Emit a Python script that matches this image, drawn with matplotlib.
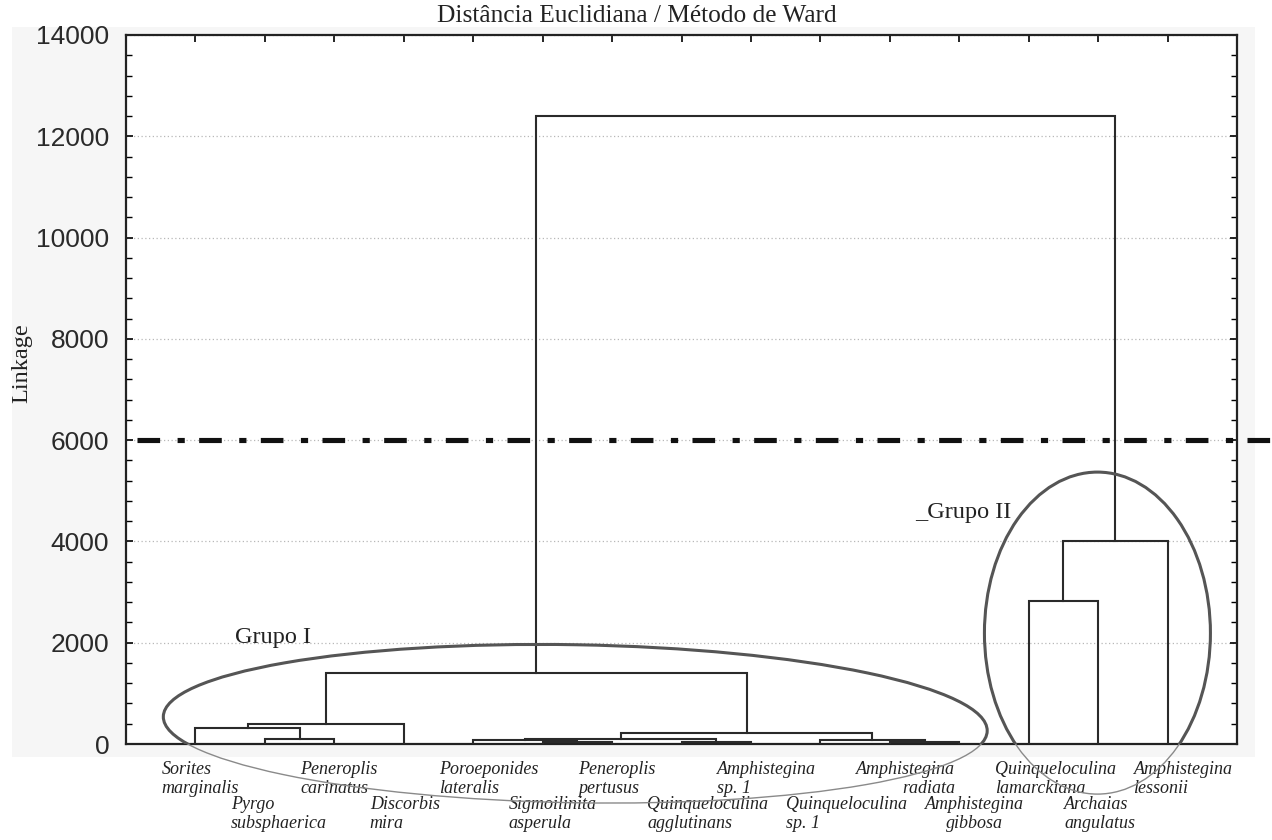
import numpy as np
import matplotlib
matplotlib.use("Agg")
import matplotlib.pyplot as plt
from matplotlib.patches import Ellipse, Rectangle
from matplotlib.transforms import Affine2D
from matplotlib.ticker import MultipleLocator, FixedLocator

# ---------------- data ----------------
LEAF_GENUS = ["Sorites", "Pyrgo", "Peneroplis", "Discorbis", "Poroeponides",
              "Sigmoilinita", "Peneroplis", "Quinqueloculina", "Amphistegina",
              "Quinqueloculina", "Amphistegina", "Amphistegina", "Quinqueloculina",
              "Archaias", "Amphistegina"]
LEAF_SPECIES = ["marginalis", "subsphaerica", "carinatus", "mira", "lateralis",
                "asperula", "pertusus", "agglutinans", "sp. 1", "sp. 1",
                "radiata", "gibbosa", "lamarckiana", "angulatus", "lessonii"]
# linkage: children (leaf index < 15, else node 15 + merge index) and height
MERGE_LEFT = [1, 0, 16, 5, 4, 7, 19, 10, 9, 21, 17, 12, 26, 25]
MERGE_RIGHT = [2, 15, 3, 6, 18, 8, 20, 11, 22, 23, 24, 13, 14, 27]
MERGE_HEIGHT = [95, 315, 395, 40, 70, 45, 100, 40, 75, 215, 1405, 2820, 4000, 12400]
CUT_HEIGHT = 6000
Y_TICKS = [0, 2000, 4000, 6000, 8000, 10000, 12000, 14000]
GROUP_NAMES = ["Grupo I", "_Grupo II"]
TITLE = "Distância Euclidiana / Método de Ward"
Y_LABEL = "Linkage"

# ---------------- figure ----------------
W, H = 1272, 840
fig = plt.figure(figsize=(W / 100, H / 100), dpi=100)
fig.patch.set_facecolor("white")
fig.patches.append(Rectangle((12 / W, 1 - 757 / H), (1255 - 12) / W, (757 - 27) / H,
                             transform=fig.transFigure, facecolor="#f6f6f6",
                             edgecolor="none", zorder=-10))
ax_l, ax_r, ax_t, ax_b = 126, 1237, 35, 744
ax = fig.add_axes([ax_l / W, 1 - ax_b / H, (ax_r - ax_l) / W, (ax_b - ax_t) / H])
ax.set_zorder(1)
ax.set_facecolor("white")
n = len(LEAF_GENUS)
ax.set_xlim(0, n + 1)
ax.set_ylim(0, 14000)

SERIF = ["Liberation Serif", "DejaVu Serif"]
SANS = ["Liberation Sans Narrow", "Liberation Sans", "DejaVu Sans"]

# ---------------- dendrogram ----------------
xpos = {i: i + 1.0 for i in range(n)}
hpos = {i: 0.0 for i in range(n)}
lc = "#2a2a2a"
for k, (a, b, h) in enumerate(zip(MERGE_LEFT, MERGE_RIGHT, MERGE_HEIGHT)):
    xa, xb = xpos[a], xpos[b]
    ax.plot([xa, xa, xb, xb], [hpos[a], h, h, hpos[b]], color=lc, lw=1.5,
            solid_joinstyle="miter", zorder=3)
    xpos[n + k] = (xa + xb) / 2
    hpos[n + k] = h

# cut line
cut, = ax.plot([0.01, 1.031], [CUT_HEIGHT, CUT_HEIGHT], color="#111111", lw=3.7,
               transform=ax.get_yaxis_transform(), clip_on=False, zorder=5,
               solid_capstyle="butt", dash_capstyle="butt")
cut.set_dashes([4.4, 3.4, 1.4, 2.8])

# ---------------- axes styling ----------------
ax.yaxis.set_major_locator(FixedLocator(Y_TICKS))
ax.yaxis.set_minor_locator(MultipleLocator(400))
ax.set_yticklabels([str(v) for v in Y_TICKS], family=SANS, fontsize=19, color="#2a2a2a")
ax.tick_params(axis="y", which="both", direction="in", left=True, right=True, pad=12)
ax.tick_params(axis="y", which="major", length=5, width=1.2)
ax.tick_params(axis="y", which="minor", length=4, width=1.0)
ax.xaxis.set_major_locator(FixedLocator(np.arange(1, n + 1)))
ax.tick_params(axis="x", which="both", direction="in", top=True, bottom=False,
               labelbottom=False, length=5, width=1.2)
ax.grid(axis="y", which="major", color="#b8b8b8", linestyle=(0, (1, 2)), lw=0.9)
ax.set_axisbelow(True)
for sp in ax.spines.values():
    sp.set_linewidth(1.6)
    sp.set_color("#222222")

# ---------------- leaf labels ----------------
for i in range(n):
    row_off = -12.5 if i % 2 == 0 else -37.5
    ma = "left"
    if LEAF_SPECIES[i] == "radiata":
        ma = "right"
    elif LEAF_SPECIES[i] == "gibbosa":
        ma = "center"
    ax.annotate(LEAF_GENUS[i] + "\n" + LEAF_SPECIES[i], xy=(i + 1, 0),
                xycoords=("data", "axes fraction"), xytext=(-24.5, row_off),
                textcoords="offset points", ha="left", va="top",
                multialignment=ma, family=SERIF, style="italic",
                fontsize=13, linespacing=1.15, color="#222222",
                annotation_clip=False)

# ---------------- group ellipses ----------------
fig.canvas.draw()
bb = ax.get_window_extent()
sx = bb.width / (n + 1)
sy = bb.height / 14000.0
px = Affine2D().scale(1 / sx, 1 / sy) + ax.transData


def group_ellipse(cx, cy, w_px, h_px, ang):
    for lw, col, clip, z in [(1.0, "#8a8a8a", False, 3.9), (2.2, "#555555", True, 4.0)]:
        e = Ellipse((cx * sx, cy * sy), w_px, h_px, angle=ang, transform=px,
                    fill=False, edgecolor=col, lw=lw, zorder=z)
        ax.add_patch(e)
        e.set_clip_on(clip)


group_ellipse(6.47, 400, 824, 158, -1.0)
group_ellipse(13.99, 2190, 226, 322, 0.0)

ax.text(1.57, 2110, GROUP_NAMES[0], family=SERIF, fontsize=17.5, ha="left",
        va="center", color="#222222", zorder=6)
ax.text(11.37, 4580, GROUP_NAMES[1], family=SERIF, fontsize=17.5, ha="left",
        va="center", color="#222222", zorder=6)

# ---------------- titles ----------------
fig.text(637 / W, 1 - 16 / H, TITLE, family=SERIF, fontsize=18.3, ha="center",
         va="center", color="#222222")
fig.text(22 / W, 1 - 363 / H, Y_LABEL, family=SERIF, fontsize=17.5, rotation=90,
         ha="center", va="center", color="#222222")

fig.savefig("out.png", dpi=100)
